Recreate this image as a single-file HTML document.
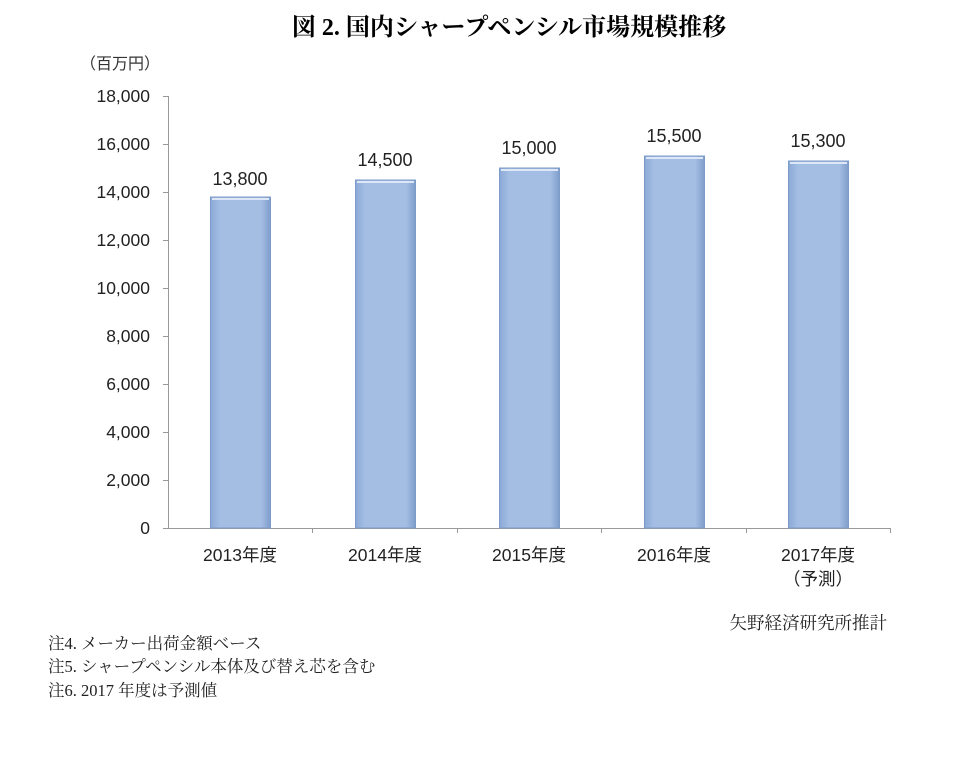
<!DOCTYPE html>
<html><head><meta charset="utf-8"><style>
body{margin:0;background:#fff;width:960px;height:778px;overflow:hidden}
</style></head><body>
<svg width="960" height="778" xmlns="http://www.w3.org/2000/svg" font-family="'Liberation Sans','Noto Sans CJK JP',sans-serif">
<defs>
<linearGradient id="g" x1="0" x2="1" y1="0" y2="0">
<stop offset="0" stop-color="#8aa9d6"/><stop offset="0.15" stop-color="#a3bde3"/><stop offset="0.85" stop-color="#a3bde3"/><stop offset="1" stop-color="#7f9dca"/>
</linearGradient>
</defs>
<text x="509" y="35" text-anchor="middle" font-size="24" font-weight="bold" font-family="'Liberation Serif','Noto Serif CJK SC',serif">図 2. 国内シャープペンシル市場規模推移</text>
<text x="80" y="69" font-size="16" fill="#333">（百万円）</text>
<g font-size="17.5" fill="#222" text-anchor="end">
<text x="150" y="102">18,000</text><text x="150" y="150">16,000</text><text x="150" y="198">14,000</text>
<text x="150" y="246">12,000</text><text x="150" y="294">10,000</text><text x="150" y="342">8,000</text>
<text x="150" y="390">6,000</text><text x="150" y="438">4,000</text><text x="150" y="486">2,000</text>
<text x="150" y="534">0</text>
</g>
<g stroke="#999" stroke-width="1">
<line x1="168.5" y1="96" x2="168.5" y2="528"/>
<line x1="163" y1="528.5" x2="890" y2="528.5"/>
<line x1="163" y1="96.5" x2="168" y2="96.5"/><line x1="163" y1="144.5" x2="168" y2="144.5"/><line x1="163" y1="192.5" x2="168" y2="192.5"/><line x1="163" y1="240.5" x2="168" y2="240.5"/><line x1="163" y1="288.5" x2="168" y2="288.5"/><line x1="163" y1="336.5" x2="168" y2="336.5"/><line x1="163" y1="384.5" x2="168" y2="384.5"/><line x1="163" y1="432.5" x2="168" y2="432.5"/><line x1="163" y1="480.5" x2="168" y2="480.5"/>
<line x1="312.5" y1="528" x2="312.5" y2="533"/><line x1="457.5" y1="528" x2="457.5" y2="533"/><line x1="601.5" y1="528" x2="601.5" y2="533"/><line x1="746.5" y1="528" x2="746.5" y2="533"/><line x1="890.5" y1="528" x2="890.5" y2="533"/>
</g>
<g fill="url(#g)" stroke="#7d9bc8" stroke-width="1">
<rect x="210.5" y="197" width="60" height="331"/>
<rect x="355.5" y="180" width="60" height="348"/>
<rect x="499.5" y="168" width="60" height="360"/>
<rect x="644.5" y="156" width="60" height="372"/>
<rect x="788.5" y="161" width="60" height="367"/>
</g>
<g stroke="#dde7f5" stroke-width="2">
<line x1="212" y1="199" x2="269" y2="199"/><line x1="357" y1="182" x2="414" y2="182"/><line x1="501" y1="170" x2="558" y2="170"/><line x1="646" y1="158" x2="703" y2="158"/><line x1="790" y1="163" x2="847" y2="163"/>
</g>
<g font-size="18" fill="#222" text-anchor="middle">
<text x="240" y="185">13,800</text><text x="385" y="166">14,500</text><text x="529" y="154">15,000</text>
<text x="674" y="142">15,500</text><text x="818" y="147">15,300</text>
</g>
<g font-size="17.5" fill="#222" text-anchor="middle">
<text x="240" y="561">2013年度</text><text x="385" y="561">2014年度</text><text x="529" y="561">2015年度</text>
<text x="674" y="561">2016年度</text><text x="818" y="561">2017年度</text><text x="818" y="585">（予測）</text>
</g>
<g font-family="'Liberation Serif','Noto Serif CJK JP',serif" font-size="16.5" fill="#222">
<text x="887" y="629" text-anchor="end" font-size="17.5">矢野経済研究所推計</text>
<text x="48" y="649">注4. メーカー出荷金額ベース</text>
<text x="48" y="672">注5. シャープペンシル本体及び替え芯を含む</text>
<text x="48" y="696">注6. 2017 年度は予測値</text>
</g>
</svg>
</body></html>
